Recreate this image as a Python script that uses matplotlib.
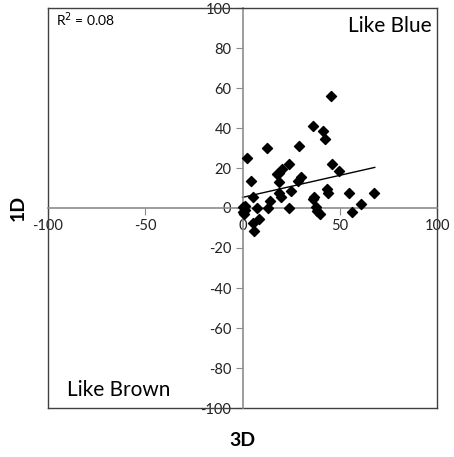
import matplotlib.pyplot as plt

# scatter points (3D score, 1D score)
x_3d = [45.3, 36.1, 41.2, 42.4, 12.8, 29.2, 2.5, 23.9, 46.0, 20.2,
        18.9, 17.9, 49.8, 4.2, 30.1, 28.7, 18.9, 24.9, 43.3, 43.8,
        36.8, 36.1, 54.8, 67.6, 18.9, 19.6, 5.6, 14.1, 60.9, 7.3,
        0.4, 1.3, 0.8, 13.3, 23.9, 37.8, 38.5, 39.8, 56.1, 8.6,
        5.6, 6.0, 0.4, 1.2]
y_1d = [56.2, 41.2, 38.7, 34.5, 30.2, 31.0, 24.8, 21.8, 21.8, 19.3,
        17.7, 16.8, 18.7, 13.7, 15.3, 13.7, 12.8, 8.7, 9.5, 7.3,
        5.7, 4.3, 7.3, 7.3, 7.3, 5.3, 5.3, 3.7, 2.0, 0.2,
        0.7, -1.0, -3.2, -0.2, -0.2, 0.7, -1.3, -3.0, -1.8, -5.7,
        -7.5, -11.5, -2.0, 1.2]

# linear trendline endpoints
trend_x = [0, 68]
trend_y = [5.3, 20.3]
r2_text = 'R$^2$ = 0.08'

x_ticks = [-100, -50, 0, 50, 100]
y_ticks = [-100, -80, -60, -40, -20, 0, 20, 40, 60, 80, 100]

plt.rcParams['font.family'] = ['Lato', 'DejaVu Sans']
plt.rcParams['axes.unicode_minus'] = False

fig = plt.figure(figsize=(4.54, 4.57), dpi=100)
ax = fig.add_axes([48 / 454, 1 - 408 / 457, 389 / 454, 400 / 457])

ax.set_xlim(-100, 100)
ax.set_ylim(-100, 100)

# outer box
for side in ['top', 'right']:
    ax.spines[side].set_color('#404040')
    ax.spines[side].set_linewidth(1.0)
ax.spines['left'].set_position(('data', 0))
ax.spines['bottom'].set_position(('data', 0))
ax.spines['left'].set_color('#8c8c8c')
ax.spines['bottom'].set_color('#8c8c8c')
ax.spines['left'].set_linewidth(1.2)
ax.spines['bottom'].set_linewidth(1.2)
ax.plot([-100, -100], [-100, 100], color='#404040', lw=1.0, clip_on=False)
ax.plot([-100, 100], [-100, -100], color='#404040', lw=1.0, clip_on=False)

ax.set_xticks(x_ticks)
ax.set_yticks(y_ticks)
ax.tick_params(axis='both', direction='out', length=5, color='#8c8c8c',
               labelsize=10.5, labelcolor='#222222', pad=3)

ax.scatter(x_3d, y_1d, marker='D', s=26, color='black', zorder=3)
ax.plot(trend_x, trend_y, color='black', lw=1.0, zorder=2)

ax.text(-96, 99, r2_text, fontsize=10, va='top', ha='left')
ax.text(97, 91, 'Like Blue', fontsize=15, va='center', ha='right')
ax.text(-90, -91, 'Like Brown', fontsize=15, va='center', ha='left')

fig.text(242 / 454, 1 - 441 / 457, '3D', fontsize=14, fontweight='bold',
         ha='center', va='center')
fig.text(18 / 454, 1 - 208 / 457, '1D', fontsize=14, fontweight='bold',
         ha='center', va='center', rotation=90)

fig.savefig('out.png', dpi=100)
